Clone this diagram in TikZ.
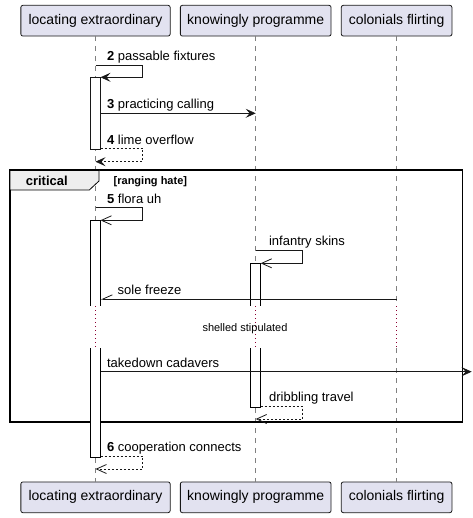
\documentclass[tikz,border=0pt]{standalone}
\usepackage{fontspec}
\setmainfont{Liberation Sans}
\usetikzlibrary{positioning,arrows.meta}
\definecolor{partfill}{RGB}{226,226,240}
\definecolor{partline}{RGB}{24,24,24}
\definecolor{delayred}{RGB}{140,0,50}
\definecolor{tabfill}{RGB}{238,238,238}

\begin{document}
\begin{tikzpicture}[x=1pt,y=-1pt,
    line width=0.8pt,
    part/.style={draw=partline,fill=partfill,rounded corners=2pt,
        minimum height=30.7pt,inner sep=0pt,font=\fontsize{14}{16}\selectfont},
    life/.style={gray,line width=0.6pt,dash pattern=on 5pt off 5pt},
    delay/.style={delayred,line width=0.9pt,dash pattern=on 1pt off 3pt},
    act/.style={draw=partline,fill=white},
    msg/.style={-{Stealth[length=10pt,width=9pt,inset=4pt]},partline},
    async/.style={-{Straight Barb[length=10pt,width=9pt]},partline},
    half/.style={-{Straight Barb[length=10pt,width=9pt,harpoon,swap]},partline},
    ret/.style={dash pattern=on 2pt off 2pt},
    lbl/.style={anchor=base west,inner sep=0pt,font=\fontsize{13}{15}\selectfont}]
    \fill[white] (0,0) rectangle (472,518);
    \useasboundingbox (0,0) rectangle (472,518);
    % participants
    \node[part,minimum width=149.3pt] (loc) at (95.5,20.7) {locating extraordinary};
    \node[part,minimum width=150.7pt] (kno) at (255.7,20.7) {knowingly programme};
    \node[part,minimum width=110.6pt] (col) at (396.6,20.7) {colonials flirting};
    \node[part,minimum width=149.3pt] (loc-end) at (95.5,497.3) {locating extraordinary};
    \node[part,minimum width=150.7pt] (kno-end) at (255.7,497.3) {knowingly programme};
    \node[part,minimum width=110.6pt] (col-end) at (396.6,497.3) {colonials flirting};
    % lifelines, broken by the delay
    \foreach \p in {loc,kno,col} {
        \draw[life] (\p.south) -- (\p |- 0,306);
        \draw[delay] (\p |- 0,306) -- (\p |- 0,348);
        \draw[life] (\p |- 0,348) -- (\p-end.north);
    }
    % critical frame
    \draw[line width=1.5pt] (10,170) rectangle (462.7,422);
    \draw[fill=tabfill] (10,170) -- (99,170) -- (99,181) -- (89.3,190) -- (10,190) -- cycle;
    \draw[line width=1.5pt] (10,170) -- (99,170);
    \node[font=\bfseries\fontsize{13}{15}\selectfont] at (46.8,181) {critical};
    \node[lbl,font=\bfseries\fontsize{11}{13}\selectfont] at (113.3,185) {[ranging hate]};
    % activations
    \draw[act] (90.5,77.3) rectangle (100.5,149.3);
    \fill[white] (90.5,220.3) rectangle (100.5,305.7);
    \draw (90.5,305.7) -- (90.5,220.3) -- (100.5,220.3) -- (100.5,305.7);
    \fill[white] (90.5,348.3) rectangle (100.5,457);
    \draw (90.5,348.3) -- (90.5,457) -- (100.5,457) -- (100.5,348.3);
    \fill[white] (250.7,263.3) rectangle (260.7,305.7);
    \draw (250.7,305.7) -- (250.7,263.3) -- (260.7,263.3) -- (260.7,305.7);
    \fill[white] (250.7,348.3) rectangle (260.7,407);
    \draw (250.7,348.3) -- (250.7,407) -- (260.7,407) -- (260.7,348.3);
    % messages
    \draw[msg] (loc |- 0,65) -- (142.7,65) -- (142.7,77.3) -- ([xshift=5pt]loc |- 0,77.3);
    \node[lbl] at (106.7,60.5) {\textbf{2} passable fixtures};
    \draw[msg] ([xshift=5pt]loc |- 0,113.3) -- (kno |- 0,113.3);
    \node[lbl] at (106.7,108.8) {\textbf{3} practicing calling};
    \draw[msg,ret] ([xshift=5pt]loc |- 0,148.7) -- (142.7,148.7) -- (142.7,161.7) -- (loc |- 0,161.7);
    \node[lbl] at (106.7,144.2) {\textbf{4} lime overflow};
    \draw[async] (loc |- 0,207.7) -- (142.7,207.7) -- (142.7,220.3) -- ([xshift=5pt]loc |- 0,220.3);
    \node[lbl] at (106.7,203.2) {\textbf{5} flora uh};
    \draw[async] (kno |- 0,250.3) -- (302.3,250.3) -- (302.3,263.3) -- ([xshift=5pt]kno |- 0,263.3);
    \node[lbl] at (268.7,245.8) {infantry skins};
    \draw[half] (col |- 0,299.3) -- ([xshift=5pt]loc |- 0,299.3);
    \node[lbl] at (117.3,294.8) {sole freeze};
    \node[font=\fontsize{11}{13}\selectfont] at (245,328.8) {shelled stipulated};
    \coordinate (out) at (471.7,371.7);
    \draw[msg] ([xshift=5pt]loc |- 0,371.7) -- (out);
    \node[lbl] at (106.7,367.2) {takedown cadavers};
    \draw[async,ret] ([xshift=5pt]kno |- 0,406.3) -- (302.3,406.3) -- (302.3,419) -- (kno |- 0,419);
    \node[lbl] at (268.7,401.8) {dribbling travel};
    \draw[async,ret] ([xshift=5pt]loc |- 0,456.3) -- (142.7,456.3) -- (142.7,469) -- (loc |- 0,469);
    \node[lbl] at (106.7,451.8) {\textbf{6} cooperation connects};
\end{tikzpicture}
\end{document}
